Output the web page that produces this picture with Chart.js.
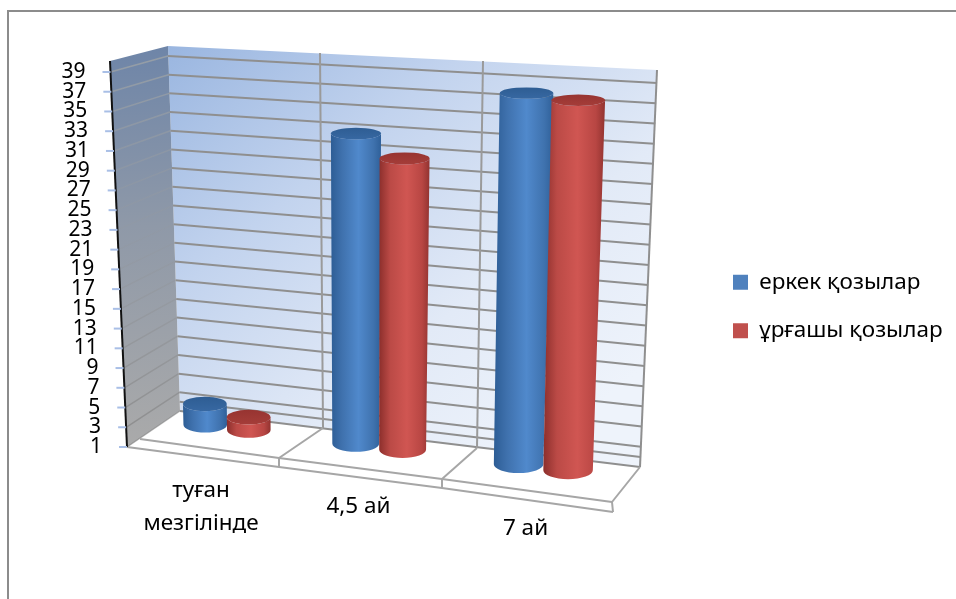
<!DOCTYPE html>
<html>
<head>
<meta charset="utf-8">
<style>html,body{margin:0;padding:0;background:#fff;overflow:hidden}canvas{display:block}</style>
<script src="https://cdn.jsdelivr.net/npm/chart.js@4/dist/chart.umd.js"></script>
</head>
<body>
<canvas id="c" width="956" height="599"></canvas>
<script>
// Chart content
const categories = [['туған', 'мезгілінде'], '4,5 ай', '7 ай'];
const seriesNames = ['еркек қозылар', 'ұрғашы қозылар'];
const maleValues = [3.1, 32.4, 38.6];
const femaleValues = [2.3, 30.5, 38.5];
const axisMin = 1;
const axisMax = 39;
const axisStep = 2;
const extraGridValues = [2];

// Perspective frame of the 3D box, in page pixels
const floorFront = [[127, 447], [279, 467], [442, 488], [613, 512]];
const floorBack = [[180, 411], [323, 428], [477, 448], [640, 467]];
const wallTopLeft = [168, 46], wallTopRight = [657, 70];
const sideTopFront = [110, 61];
const gridBackLeftTop = [168, 56], gridBackRightTop = [657, 83];
const dividerTops = [[320, 53], [483, 61]];
const edgeUpperFront = [[140, 439], [279, 458], [442, 479], [612, 502]];
const cellShift = [0.085, 0.07, 0.045];
const labelBaselines = [497, 513, 535];
const labelFont = '22.5px "Noto Sans"';
const lerp = (a, b, t) => a + (b - a) * t;

// Fraction from the top tick (0) to the bottom tick (1) on the value axis
function axisFraction(y, value) {
  return (y.getPixelForValue(value) - y.getPixelForValue(axisMax)) /
         (y.getPixelForValue(axisMin) - y.getPixelForValue(axisMax));
}
function sideFrontX(py) {
  return lerp(sideTopFront[0], floorFront[0][0], (py - sideTopFront[1]) / (floorFront[0][1] - sideTopFront[1]));
}
function backLeft(f) {
  return [lerp(gridBackLeftTop[0], floorBack[0][0], f), lerp(gridBackLeftTop[1], floorBack[0][1], f)];
}
function backRight(f) {
  return [lerp(gridBackRightTop[0], floorBack[3][0], f), lerp(gridBackRightTop[1], floorBack[3][1], f)];
}
function line(ctx, pts, color, width) {
  ctx.beginPath();
  pts.forEach((p, i) => i ? ctx.lineTo(p[0], p[1]) : ctx.moveTo(p[0], p[1]));
  ctx.strokeStyle = color;
  ctx.lineWidth = width;
  ctx.stroke();
}
function poly(ctx, pts, fill) {
  ctx.beginPath();
  pts.forEach((p, i) => i ? ctx.lineTo(p[0], p[1]) : ctx.moveTo(p[0], p[1]));
  ctx.closePath();
  ctx.fillStyle = fill;
  ctx.fill();
}

// Cylinder series: each bar element is projected onto the box floor
const shades = {
  '#4f81bd': { stops: ['#2d5d95', '#3f71ad', '#5089cc', '#3f72ae', '#2f6099'], cap: '#3768a2', capDark: '#2e5d93' },
  '#c0504d': { stops: ['#8c2f2c', '#bb4a46', '#d05652', '#b84643', '#923330'], cap: '#a53d39', capDark: '#973431' }
};
class CylinderController extends Chart.BarController {
  // The female series overlaps the male one, so all series paint left to right in one pass
  draw() {
    if (this.index !== 0) return;
    this.chart.getSortedVisibleDatasetMetas().forEach(m => m.controller.drawCylinders());
  }
  drawCylinders() {
    const chart = this.chart, ctx = chart.ctx, area = chart.chartArea;
    const meta = this.getMeta();
    const color = this.getDataset().backgroundColor;
    const shade = shades[color];
    const cells = chart.data.labels.length;
    meta.data.forEach((el, i) => {
      const frac = (el.x - area.left) / area.width * cells - i - cellShift[i];
      const d = 0.75;
      const lx = lerp(floorFront[i][0], floorBack[i][0], d), ly = lerp(floorFront[i][1], floorBack[i][1], d);
      const rx2 = lerp(floorFront[i + 1][0], floorBack[i + 1][0], d), ry2 = lerp(floorFront[i + 1][1], floorBack[i + 1][1], d);
      const bx = lerp(lx, rx2, frac), by = lerp(ly, ry2, frac);
      const rb = el.width / area.width * cells * (rx2 - lx) / 2;
      const units = (el.base - el.y) / (chart.scales.y.getPixelForValue(axisMin) - chart.scales.y.getPixelForValue(axisMin + 1));
      const tx = bx + (bx - 350) * 0.00125 * units;
      const ty = by - (el.base - el.y);
      const rt = rb * (1 + 0.0022 * units);
      const ryb = rb * 0.36;
      const ryt = rt * (0.34 - 0.0034 * units);
      const g = ctx.createLinearGradient(Math.min(bx - rb, tx - rt), 0, Math.max(bx + rb, tx + rt), 0);
      [0, 0.22, 0.55, 0.85, 1].forEach((s, k) => g.addColorStop(s, shade.stops[k]));
      ctx.save();
      ctx.beginPath();
      ctx.moveTo(tx - rt, ty);
      ctx.lineTo(bx - rb, by);
      ctx.ellipse(bx, by, rb, ryb, 0, Math.PI, 0, true);
      ctx.lineTo(tx + rt, ty);
      ctx.ellipse(tx, ty, rt, ryt, 0, 0, Math.PI, false);
      ctx.closePath();
      ctx.fillStyle = g;
      ctx.fill();
      const cap = ctx.createLinearGradient(0, ty - ryt, 0, ty + ryt);
      cap.addColorStop(0, shade.capDark);
      cap.addColorStop(1, shade.cap);
      ctx.beginPath();
      ctx.ellipse(tx, ty, rt, ryt, 0, 0, Math.PI * 2);
      ctx.fillStyle = cap;
      ctx.fill();
      ctx.restore();
    });
  }
}
CylinderController.id = 'cylinder';
CylinderController.defaults = Chart.BarController.defaults;
CylinderController.overrides = Chart.BarController.overrides;
Chart.register(CylinderController);

// Frame, walls, floor and gridlines behind the cylinders
const boxPlugin = {
  id: 'box',
  afterLayout(chart) {
    const legend = chart.legend;
    legend.left = 733 - legend.options.labels.padding;
    legend.top += 47;
    legend.bottom += 47;
  },
  beforeDatasetsDraw(chart) {
    const ctx = chart.ctx, y = chart.scales.y;
    ctx.save();
    // outer chart border
    line(ctx, [[8, 599], [8, 11], [956, 11]], '#8c8c8c', 2);

    // back wall
    const bg = ctx.createLinearGradient(170, 46, 520, 470);
    bg.addColorStop(0, '#9ab6e0');
    bg.addColorStop(0.35, '#c2d3ee');
    bg.addColorStop(0.7, '#e2eaf7');
    bg.addColorStop(1, '#eef3fb');
    poly(ctx, [wallTopLeft, wallTopRight, floorBack[3], floorBack[0]], bg);

    // side wall
    const sg = ctx.createLinearGradient(0, 46, 0, 447);
    sg.addColorStop(0, '#6e85a8');
    sg.addColorStop(0.45, '#8f99a8');
    sg.addColorStop(1, '#aaaaaa');
    poly(ctx, [sideTopFront, wallTopLeft, floorBack[0], floorFront[0]], sg);

    // gridlines across both walls
    const sideLine = ctx.createLinearGradient(0, 50, 0, 447);
    sideLine.addColorStop(0, 'rgba(200,190,165,0.45)');
    sideLine.addColorStop(0.45, 'rgba(150,150,150,0.12)');
    sideLine.addColorStop(1, 'rgba(115,115,115,0.55)');
    const gridValues = y.ticks.map(t => t.value).concat(extraGridValues);
    gridValues.forEach(v => {
      const f = axisFraction(y, v), py = y.getPixelForValue(v);
      const l = backLeft(f), r = backRight(f);
      line(ctx, [l, r], '#8f8f8f', 2);
      if (v !== 2) line(ctx, [[sideFrontX(py), py], l], sideLine, 1.5);
    });

    // category dividers and wall edge on the back wall
    dividerTops.forEach((p, i) => line(ctx, [p, floorBack[i + 1]], '#9a9a9a', 2));
    line(ctx, [wallTopRight, floorBack[3]], '#8f8f8f', 2);

    // floor outline
    for (let i = 1; i < floorBack.length; i++) {
      line(ctx, [floorBack[i], edgeUpperFront[i]], '#a6a6a6', 2);
      line(ctx, [edgeUpperFront[i], floorFront[i]], '#a6a6a6', 2);
    }
    line(ctx, edgeUpperFront, '#a6a6a6', 2);
    line(ctx, floorFront, '#a6a6a6', 2);

    // value axis line with its tick marks and labels following the slanted edge
    line(ctx, [sideTopFront, floorFront[0]], '#111', 2);
    ctx.font = '21px "Noto Sans"';
    ctx.textAlign = 'right';
    ctx.textBaseline = 'middle';
    ctx.fillStyle = '#000';
    y.ticks.forEach(t => {
      const py = y.getPixelForValue(t.value), ex = sideFrontX(py);
      line(ctx, [[ex - 8, py], [ex, py]], '#a9bfe6', 2);
      ctx.fillText(t.label, ex - 25, py);
    });
    ctx.restore();
  },
  afterDatasetsDraw(chart) {
    const ctx = chart.ctx;
    ctx.save();
    ctx.font = labelFont;
    ctx.fillStyle = '#000';
    ctx.textAlign = 'center';
    ctx.textBaseline = 'alphabetic';
    chart.data.labels.forEach((label, i) => {
      const cx = (floorFront[i][0] + floorFront[i + 1][0]) / 2 - 2;
      [].concat(label).forEach((text, k) => ctx.fillText(text, cx, labelBaselines[i] + k * 33));
    });
    ctx.restore();
  }
};

new Chart(document.getElementById('c'), {
  type: 'cylinder',
  data: {
    labels: categories,
    datasets: [
      { label: seriesNames[0], data: maleValues, backgroundColor: '#4f81bd', borderWidth: 0, clip: false, base: axisMin },
      { label: seriesNames[1], data: femaleValues, backgroundColor: '#c0504d', borderWidth: 0, clip: false, base: axisMin }
    ]
  },
  options: {
    responsive: false,
    animation: false,
    events: [],
    categoryPercentage: 0.6,
    barPercentage: 1,
    layout: { padding: { left: 127, right: 0, top: 72, bottom: 152 } },
    scales: {
      x: { display: false },
      y: {
        display: false,
        min: axisMin,
        max: axisMax,
        ticks: { stepSize: axisStep, autoSkip: false }
      }
    },
    plugins: {
      tooltip: { enabled: false },
      legend: {
        position: 'right',
        labels: {
          boxWidth: 15,
          boxHeight: 15,
          padding: 26,
          color: '#000',
          font: { family: '"Noto Sans"', size: 22.5 }
        }
      }
    }
  },
  plugins: [boxPlugin]
});
</script>
</body>
</html>
